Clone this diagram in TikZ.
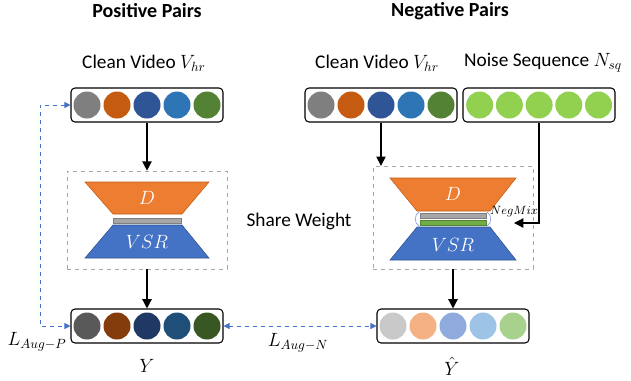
\documentclass[tikz,border=0pt]{standalone}
\usepackage{fontspec}
\setmainfont{Carlito}
\usetikzlibrary{arrows.meta,positioning}

\definecolor{cgray}{HTML}{7F7F7F}
\definecolor{corange}{HTML}{C55A11}
\definecolor{cdblue}{HTML}{2F5597}
\definecolor{cblue}{HTML}{2E75B6}
\definecolor{cgreen}{HTML}{548235}
\definecolor{cnoise}{HTML}{92D050}
\definecolor{dgray}{HTML}{595959}
\definecolor{dorange}{HTML}{843C0C}
\definecolor{ddblue}{HTML}{203864}
\definecolor{dblue}{HTML}{1F4E79}
\definecolor{dgreen}{HTML}{385723}
\definecolor{lgray}{HTML}{C9C9C9}
\definecolor{lorange}{HTML}{F4B183}
\definecolor{ldblue}{HTML}{8FAADC}
\definecolor{lblue}{HTML}{9DC3E6}
\definecolor{lgreen}{HTML}{A9D18E}
\definecolor{encfill}{HTML}{ED7D31}
\definecolor{encline}{HTML}{C55A11}
\definecolor{vsrfill}{HTML}{4472C4}
\definecolor{vsrline}{HTML}{2F528F}
\definecolor{lossblue}{HTML}{4472C4}
\definecolor{barfill}{HTML}{A6A6A6}
\definecolor{mixfill}{HTML}{70AD47}

\tikzset{
  seqbox/.style={draw, rounded corners=3pt, line width=0.8pt, minimum width=114pt, minimum height=25.5pt, inner sep=0pt},
  dot/.style={circle, minimum size=20.25pt, inner sep=0pt},
  netbox/.style={draw=black!35, dashed, line width=0.5pt, minimum width=120pt, inner sep=0pt},
  flow/.style={-{Triangle[width=7pt,length=7pt]}, line width=1pt},
  lossline/.style={draw=lossblue, dashed, line width=0.6pt, {Triangle[width=4.5pt,length=4.5pt]}-{Triangle[width=4.5pt,length=4.5pt]}},
  enc/.style={fill=encfill, draw=encline, line width=0.4pt},
  dec/.style={fill=vsrfill, draw=vsrline, line width=0.4pt},
  netlabel/.style={text=white, font=\fontsize{15}{17}\selectfont},
  label/.style={font=\fontsize{14.5}{17}\selectfont, inner sep=0pt},
  title/.style={font=\fontsize{15}{18}\selectfont\bfseries},
}

\begin{document}
\begin{tikzpicture}[x=0.75pt, y=-0.75pt]
\useasboundingbox (0,0) rectangle (631,380);

% titles
\node[title] (tpos) at (147,11) {Positive Pairs};
\node[title] (tneg) at (450,11) {Negative Pairs};

% input sequences
\node[label] (lpv) at (144,63) {Clean Video $V_{hr}$};
\node[label] (lnv) at (377,63) {Clean Video $V_{hr}$};
\node[label] (lns) at (543,63) {Noise Sequence $N_{sq}$};
\node[seqbox] (pv) at (147,105) {};
\node[seqbox] (nv) at (381,105) {};
\node[seqbox] (ns) at (539,105) {};
\foreach \c [count=\i] in {cgray,corange,cdblue,cblue,cgreen} {
  \node[dot, fill=\c] (pv\i) at (57+30*\i,105) {};
  \node[dot, fill=\c] (nv\i) at (291+30*\i,105) {};
}
\foreach \i in {1,...,5}
  \node[dot, fill=cnoise] (ns\i) at (450+29.7*\i,105) {};

% networks
\node[netbox, minimum height=73.5pt] (pnet) at (147,220) {};
\node[netbox, minimum height=77pt] (nnet) at (453,217.5) {};

\draw[enc] (85,182) -- (209,182) -- (182,214) -- (113,214) -- cycle;
\draw[fill=barfill, draw=cgray, line width=0.4pt] (113,218) rectangle (181,223);
\draw[dec] (113,225) -- (182,225) -- (209,258) -- (85,258) -- cycle;
\node[netlabel] (pd) at (147,198) {$D$};
\node[netlabel] (pvsr) at (147,242) {$VSR$};

\draw[enc] (390,178) -- (516,178) -- (490,211) -- (417,211) -- cycle;
\draw[fill=barfill, draw=cgray, line width=0.4pt] (420,213) rectangle (486,218);
\draw[fill=mixfill, draw=cgreen, line width=0.4pt] (420,220) rectangle (486,225);
\draw[dec] (417,227) -- (490,227) -- (516,260) -- (390,260) -- cycle;
\draw[lblue!80!blue, line width=0.5pt] (419,212) .. controls (414,215) and (414,223) .. (419,226);
\draw[lblue!80!blue, line width=0.5pt] (487,212) .. controls (492,215) and (492,223) .. (487,226);
\node[netlabel] (nd) at (453,194) {$D$};
\node[netlabel] (nvsr) at (453,245) {$VSR$};
\node[font=\fontsize{9}{10}\selectfont, inner sep=1pt] (mix) at (514,212) {$NegMix$};
\coordinate (mixin) at (514,223);

\node[label] (share) at (299,221) {Share Weight};

% outputs
\node[seqbox] (pout) at (147,326) {};
\node[seqbox] (nout) at (453,326) {};
\foreach \c [count=\i] in {dgray,dorange,ddblue,dblue,dgreen}
  \node[dot, fill=\c] (po\i) at (57+30*\i,326) {};
\foreach \c [count=\i] in {lgray,lorange,ldblue,lblue,lgreen}
  \node[dot, fill=\c] (no\i) at (363+30*\i,326) {};
\node[label] (ly) at (147,366) {$Y$};
\node[label] (lyh) at (452,366) {$\hat{Y}$};

% flow arrows
\draw[flow] (pv.south) -- (pnet.north);
\draw[flow] (nv.south) -- (nv.south |- nnet.north);
\draw[flow] (ns.south) |- (mixin);
\draw[flow] (pnet.south) -- (pout.north);
\draw[flow] (nnet.south) -- (nout.north);

% losses
\coordinate (lp) at (40,216);
\draw[lossline] (pv.west) -| (lp) |- (pout.west);
\draw[lossline] (pout.east) -- (nout.west);
\node[label] (lap) at (37,342) {$L_{Aug-P}$};
\node[label] (lan) at (298,343) {$L_{Aug-N}$};
\end{tikzpicture}
\end{document}
